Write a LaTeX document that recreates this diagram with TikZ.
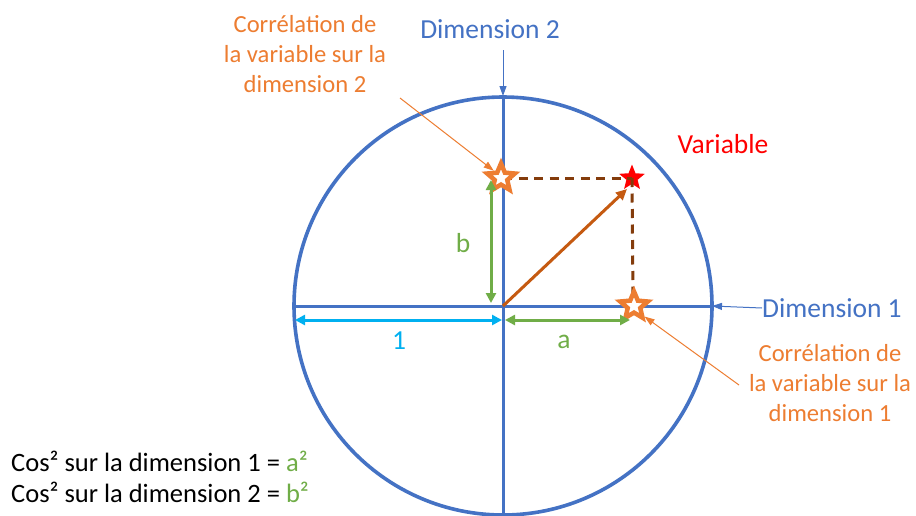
\documentclass[tikz,border=0pt]{standalone}
\usepackage{fontspec}
\setmainfont{Carlito}
\usetikzlibrary{arrows.meta,shapes.geometric}
\definecolor{cblue}{HTML}{4472C4}
\definecolor{corange}{HTML}{ED7D31}
\definecolor{cgreen}{HTML}{70AD47}
\definecolor{ccyan}{HTML}{00B0F0}
\definecolor{cbrown}{HTML}{843C0C}
\definecolor{cvec}{HTML}{C55A11}
\tikzset{
  axisline/.style={cblue, line width=3pt},
  lbl/.style={font=\fontsize{27.5}{30}\selectfont, align=center, inner sep=0pt},
  orlbl/.style={lbl, text=corange, font=\fontsize{24.6}{30}\selectfont},
  btxt/.style={lbl, font=\fontsize{26.5}{31}\selectfont, anchor=west, align=left},
  ptr/.style={corange, line width=1pt, -{Triangle[length=10pt,width=7pt]}},
  dimptr/.style={cblue, line width=1pt, -{Triangle[length=10pt,width=7pt]}},
  ostar/.style={star, star points=5, star point ratio=2.2, minimum size=29pt, inner sep=0pt, draw=corange, fill=white, line width=4.5pt, line join=miter},
  rstar/.style={star, star points=5, star point ratio=2.3, minimum size=27pt, inner sep=0pt, fill=red},
  dbl/.style={line width=3pt, {Triangle[length=10pt,width=10pt]}-{Triangle[length=10pt,width=10pt]}},
  dsh/.style={cbrown, line width=3pt, dash pattern=on 9pt off 6.5pt},
}
\begin{document}
\begin{tikzpicture}[x=1pt,y=-1pt]
\useasboundingbox (0,0) rectangle (916,515);
\fill[white] (0,0) rectangle (916,515);
\coordinate (O) at (503,306);
\coordinate (L) at (294,306);
\coordinate (R) at (712,306);
\coordinate (T) at (503,96);
\coordinate (B) at (503,515);
\begin{scope}
\clip (0,0) rectangle (916,515);
\draw[cblue, line width=3.6pt] (O) circle (209);
\end{scope}
\draw[axisline] (L) -- (R);
\draw[axisline] (T) -- (B);
% stars
\node[rstar] (V) at (632,178) {};
\coordinate (C1) at (633,300);
\coordinate (C2) at (503,178);
% dashed projections
\draw[dsh] (C2) -- (V.center);
\draw[dsh] (V.center) -- (C1);
\node[ostar] (S2) at (501,178) {};
\node[ostar] (S1) at (634,306) {};
% vector
\draw[cvec, line width=3pt, -{Triangle[length=11pt,width=10pt]}] (O) -- (627,189);
% green arrows
\coordinate (bt) at (491,180);
\coordinate (bb) at (491,303);
\draw[dbl, cgreen] (bt) -- (bb);
\coordinate (al) at (505,320);
\coordinate (ar) at (630,320);
\draw[dbl, cgreen] (al) -- (ar);
\coordinate (ul) at (295,320);
\coordinate (ur) at (502,320);
\draw[dbl, ccyan] (ul) -- (ur);
\node[lbl, text=cgreen] (lb) at (463,243) {b};
\node[lbl, text=cgreen] (la) at (564,342) {a};
\node[lbl, text=ccyan] (l1) at (399,341) {1};
% dimension labels
\node[lbl, text=cblue] (D2) at (490,29) {Dimension 2};
\coordinate (D2s) at (503,50);
\draw[dimptr] (D2s) -- (T);
\node[lbl, text=cblue, anchor=west] (D1) at (762,308) {Dimension 1};
\draw[dimptr] (D1.west) -- (R);
\node[lbl, text=red] (VL) at (723,144) {Variable};
% correlation labels
\node[orlbl] (C2L) at (305,54) {Corrélation de\\la variable sur la\\dimension 2};
\coordinate (p2s) at (400,98);
\draw[ptr] (p2s) -- (S2.north west);
\node[orlbl] (C1L) at (830,383) {Corrélation de\\la variable sur la\\dimension 1};
\coordinate (p1s) at (739,385);
\draw[ptr] (p1s) -- (S1.south east);
% bottom text
\node[btxt] (F1) at (11,461) {Cos² sur la dimension 1 = \textcolor{cgreen}{a²}};
\node[btxt] (F2) at (11,492) {Cos² sur la dimension 2 = \textcolor{cgreen}{b²}};
\end{tikzpicture}
\end{document}
